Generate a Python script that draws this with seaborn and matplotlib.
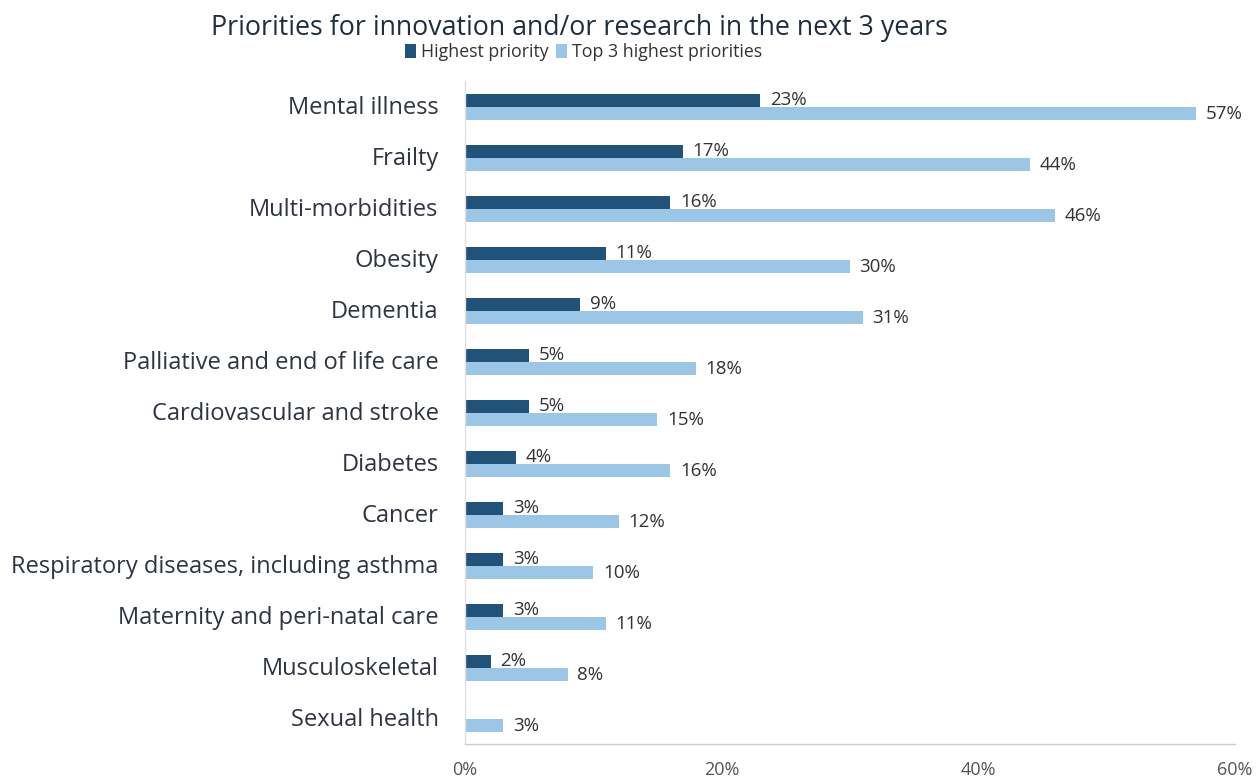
import matplotlib
matplotlib.use("Agg")
import matplotlib.pyplot as plt
import seaborn as sns
import pandas as pd
from matplotlib.patches import Patch
from matplotlib.transforms import ScaledTranslation

categories = ["Mental illness", "Frailty", "Multi-morbidities", "Obesity", "Dementia",
              "Palliative and end of life care", "Cardiovascular and stroke", "Diabetes",
              "Cancer", "Respiratory diseases, including asthma",
              "Maternity and peri-natal care", "Musculoskeletal", "Sexual health"]
highest = [23, 17, 16, 11, 9, 5, 5, 4, 3, 3, 3, 2, 0]
top3 = [57, 44, 46, 30, 31, 18, 15, 16, 12, 10, 11, 8, 3]
series = ["Highest priority", "Top 3 highest priorities"]
colors = ["#21527a", "#9cc6e6"]
xticks = [0, 20, 40, 60]

sns.set_theme(style="white")
plt.rcParams["font.family"] = ["Open Sans", "DejaVu Sans"]

df = pd.DataFrame({
    "category": categories * 2,
    "value": highest + top3,
    "series": [series[0]] * len(categories) + [series[1]] * len(categories),
})

fig = plt.figure(figsize=(12.58, 7.82), dpi=100)
ax = fig.add_axes([0.3696, 0.048, 0.9817 - 0.3696, 0.8958 - 0.048])
sns.barplot(data=df, y="category", x="value", hue="series", orient="h",
            palette=colors, width=0.5, dodge=True, ax=ax, legend=False,
            saturation=1, edgecolor="none")

for ci, cont in enumerate(ax.containers):
    vals = highest if ci == 0 else top3
    for bar, v in zip(cont, vals):
        if v == 0:
            continue
        y = bar.get_y() + bar.get_height() / 2
        ax.text(bar.get_width() + 0.75, y + (-0.01 if ci == 0 else 0.02), f"{v}%",
                va="center", ha="left", fontsize=13.5, color="#333333")

ax.set_xlim(0, 60)
ax.set_ylim(len(categories) - 0.5, -0.5)
ax.set_xticks(xticks)
ax.set_xticklabels([f"{t}%" for t in xticks], fontsize=13, color="#555555")
ax.tick_params(axis="x", length=0, pad=12)
ax.tick_params(axis="y", length=0, pad=19, labelsize=17, labelcolor="#2e3440")
shift = ScaledTranslation(0, 2 / 100, fig.dpi_scale_trans)
for lab in ax.get_yticklabels():
    lab.set_transform(lab.get_transform() + shift)
ax.set_xlabel("")
ax.set_ylabel("")
for s in ["top", "right"]:
    ax.spines[s].set_visible(False)
ax.spines["left"].set_color("#e0e0e0")
ax.spines["bottom"].set_color("#cccccc")
ax.spines["left"].set_linewidth(1)
ax.spines["bottom"].set_linewidth(1)

fig.text(0.4603, 0.964, "Priorities for innovation and/or research in the next 3 years",
         ha="center", va="center", fontsize=19.3, color="#1f2d3d")
handles = [Patch(facecolor=c, edgecolor="none") for c in colors]
fig.legend(handles, series, loc="center", bbox_to_anchor=(0.464, 0.933), ncol=2,
           frameon=False, fontsize=12.8, handlelength=0.6, handleheight=0.8,
           handletextpad=0.3, columnspacing=0.4, labelcolor="#333333")

fig.savefig("out.png", dpi=100)
